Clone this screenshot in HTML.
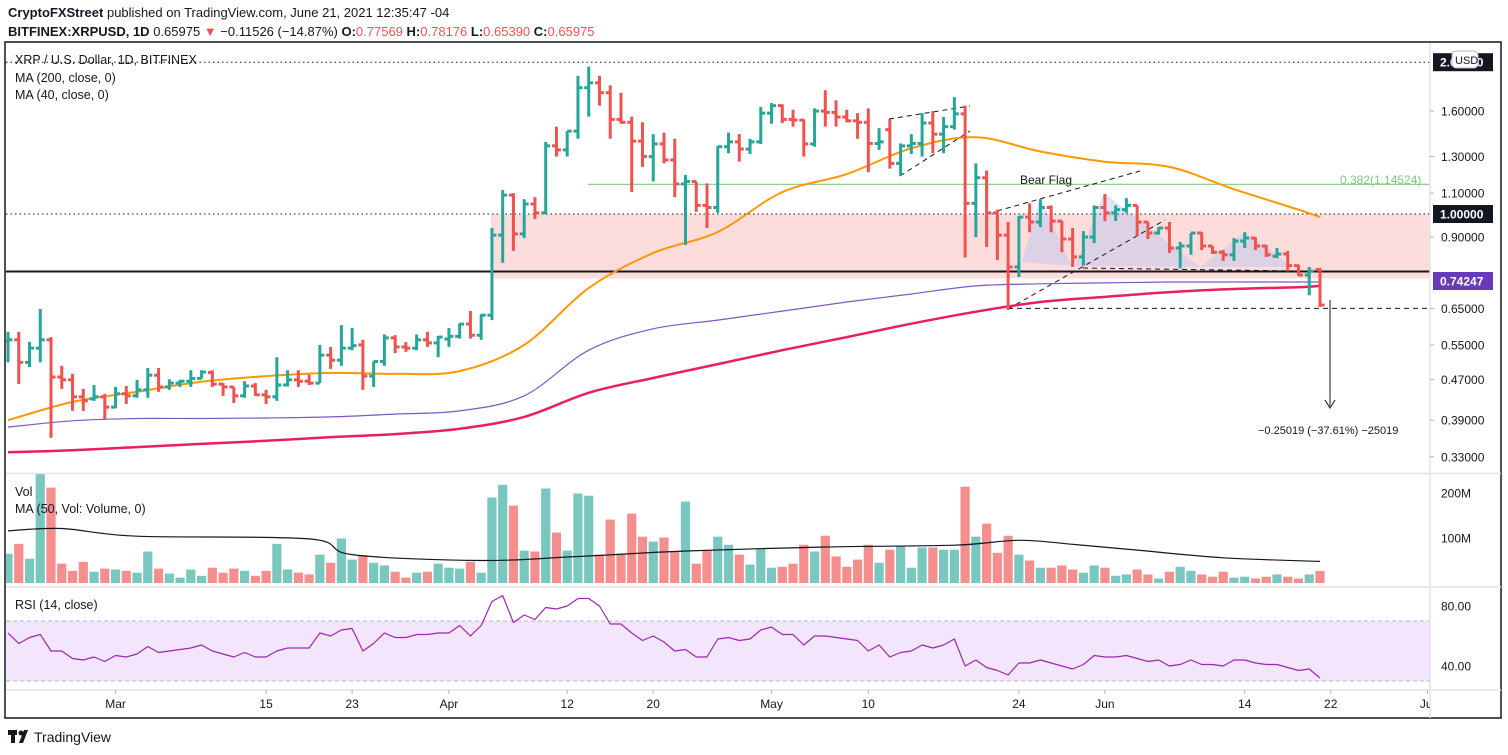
<!DOCTYPE html>
<html><head><meta charset="utf-8"><style>
html,body{margin:0;padding:0;background:#fff;}
svg{display:block;font-family:"Liberation Sans",sans-serif;}
</style></head><body>
<svg id="c" width="1508" height="755" viewBox="0 0 1508 755" xmlns="http://www.w3.org/2000/svg">
<defs>
<clipPath id="pc"><rect x="6" y="43" width="1424" height="429"/></clipPath>
<clipPath id="vc"><rect x="6" y="474" width="1424" height="111"/></clipPath>
<clipPath id="tc"><rect x="6" y="690" width="1424" height="28"/></clipPath>
</defs>
<text x="8" y="17" font-size="13" fill="#131722"><tspan font-weight="bold">CryptoFXStreet</tspan> published on TradingView.com, June 21, 2021 12:35:47 -04</text>
<text x="8" y="36" font-size="13" fill="#131722"><tspan font-weight="bold">BITFINEX:XRPUSD, 1D</tspan> 0.65975 <tspan fill="#ef5350">▼</tspan> −0.11526 (−14.87%) <tspan font-weight="bold">O:</tspan><tspan fill="#ef5350">0.77569</tspan> <tspan font-weight="bold">H:</tspan><tspan fill="#ef5350">0.78176</tspan> <tspan font-weight="bold">L:</tspan><tspan fill="#ef5350">0.65390</tspan> <tspan font-weight="bold">C:</tspan><tspan fill="#ef5350">0.65975</tspan></text>
<rect x="5" y="42" width="1496" height="676" fill="none" stroke="#131722" stroke-width="1.5"/>
<g id="bg"></g>
<g id="price" clip-path="url(#pc)"></g>
<g id="vol" clip-path="url(#vc)"></g>
<g id="rsi"></g>
<g id="axes"></g>
<g id="labels"></g>
<g>
<rect x="8" y="730" width="9" height="5" fill="#131722"/><rect x="11" y="730" width="4" height="13" fill="#131722"/><circle cx="21" cy="733" r="2.5" fill="#131722"/><path d="M19 743 L24 730 L28 730 L23 743Z" fill="#131722"/>
<text x="34" y="742" font-size="14" fill="#131722">TradingView</text></g>
</svg>
<script>
const opens=[.56,.563,.508,.542,.563,.475,.469,.434,.43,.434,.414,.44,.436,.448,.479,.454,.462,.466,.472,.485,.46,.454,.436,.456,.438,.434,.458,.469,.466,.462,.525,.513,.542,.55,.477,.51,.568,.545,.542,.563,.555,.565,.572,.605,.575,.63,.908,1.09,.913,1.047,1.005,1.365,1.34,1.46,1.78,1.82,1.74,1.54,1.52,1.395,1.30,1.377,1.28,1.147,1.16,1.04,1.03,1.36,1.39,1.345,1.39,1.585,1.64,1.54,1.535,1.377,1.60,1.59,1.557,1.53,1.52,1.38,1.47,1.26,1.365,1.38,1.515,1.44,1.49,1.58,1.05,1.18,1.005,.908,.785,.986,.964,1.03,.968,.892,.822,.90,1.03,1.005,1.02,1.04,.964,.917,.938,.856,.864,.917,.864,.84,.83,.884,.896,.864,.825,.833,.79,.757,.7757];
const highs=[.584,.584,.558,.648,.57,.50,.482,.45,.458,.44,.454,.456,.469,.495,.495,.47,.469,.49,.49,.49,.462,.454,.466,.462,.448,.52,.49,.49,.48,.55,.545,.602,.594,.563,.51,.577,.575,.557,.577,.584,.573,.594,.607,.642,.633,.938,1.115,1.10,1.07,1.08,1.39,1.49,1.46,1.88,1.96,1.88,1.80,1.74,1.56,1.52,1.44,1.45,1.41,1.195,1.16,1.15,1.365,1.45,1.44,1.41,1.63,1.66,1.65,1.61,1.54,1.62,1.76,1.68,1.61,1.585,1.62,1.48,1.54,1.38,1.44,1.585,1.60,1.557,1.705,1.64,1.26,1.22,1.02,.964,.99,1.05,1.07,1.04,.968,.938,.925,1.04,1.095,1.04,1.075,1.04,.964,.942,.964,.88,.917,.92,.864,.848,.896,.92,.90,.868,.856,.845,.793,.785,.7818];
const lows=[.508,.46,.497,.508,.36,.45,.407,.407,.426,.392,.412,.42,.432,.432,.444,.448,.454,.454,.472,.454,.436,.422,.432,.436,.42,.426,.455,.454,.458,.462,.493,.50,.537,.448,.454,.50,.53,.533,.537,.545,.52,.545,.566,.566,.563,.616,.80,.845,.896,.978,1.0,1.30,1.30,1.41,1.56,1.64,1.41,1.51,1.105,1.24,1.16,1.26,1.08,.868,1.01,.938,1.005,1.32,1.27,1.315,1.377,1.51,1.515,1.49,1.30,1.36,1.49,1.49,1.52,1.41,1.21,1.34,1.23,1.19,1.315,1.30,1.32,1.32,1.47,.82,.90,.86,.81,.645,.75,.92,.942,.92,.84,.785,.79,.876,.968,.968,1.005,.904,.892,.91,.837,.78,.83,.848,.833,.807,.807,.856,.848,.822,.818,.77,.754,.69,.6539];
const closes=[.563,.508,.542,.563,.475,.469,.434,.426,.434,.414,.44,.436,.448,.479,.454,.462,.466,.472,.486,.46,.454,.436,.456,.438,.434,.458,.469,.466,.462,.525,.513,.542,.548,.477,.51,.568,.545,.542,.563,.555,.57,.572,.605,.575,.63,.908,1.09,.913,1.047,1.005,1.365,1.34,1.46,1.78,1.82,1.74,1.54,1.52,1.395,1.30,1.377,1.28,1.147,1.16,1.04,1.03,1.36,1.39,1.345,1.39,1.585,1.64,1.54,1.535,1.377,1.60,1.59,1.557,1.53,1.52,1.38,1.39,1.26,1.365,1.38,1.515,1.44,1.49,1.58,1.05,1.18,1.005,.908,.785,.986,.964,1.03,.968,.892,.822,.90,1.03,1.005,1.02,1.04,.964,.917,.938,.856,.864,.917,.864,.84,.83,.884,.896,.864,.83,.833,.79,.757,.77,.6598];
const volumes=[65,87,54,243,212,43,27,47,25,32,30,27,23,70,32,21,12,30,16,34,23,32,27,16,27,87,30,23,19,63,45,99,52,62,45,39,25,12,23,25,43,34,32,47,23,190,218,172,72,70,210,112,72,199,194,63,141,65,154,103,92,101,70,181,43,72,103,85,63,41,77,34,36,43,85,70,105,59,36,52,85,45,74,83,34,79,79,74,74,214,103,132,67,105,63,50,34,34,39,30,23,39,34,16,19,30,19,10,25,36,27,19,14,25,12,14,10,14,19,14,10,19,27];
const rsiVals=[62,55,59,61,50,50,45,44,46,43,47,46,48,53,49,50,51,52,54,50,48,46,49,46,46,50,52,52,52,62,60,64,65,50,55,62,59,59,61,61,62,62,67,60,67,83,87,69,74,71,79,78,80,85,85,80,68,68,62,57,60,56,50,51,46,46,58,59,57,58,64,66,61,61,54,60,60,59,58,57,50,54,46,49,50,54,52,54,58,40,44,39,37,34,42,42,44,42,40,38,41,47,46,46,47,45,43,44,40,41,44,41,41,40,44,44,42,41,41,39,37,38,32];
const maIdx=[0,6,12,18,24,30,36,42,48,54,60,66,72,78,84,90,96,102,108,114,120,122];
const ma40=[.39,.424,.444,.465,.477,.484,.482,.488,.55,.713,.837,.921,1.105,1.20,1.35,1.42,1.33,1.27,1.24,1.12,1.02,.986];
const ma200=[.337,.34,.345,.35,.355,.361,.366,.375,.396,.442,.473,.504,.537,.57,.606,.64,.669,.685,.70,.71,.716,.72];
const maPurple=[.378,.389,.393,.393,.394,.396,.401,.407,.436,.537,.592,.616,.642,.669,.694,.72,.727,.73,.733,.733,.733,.733];
const volMaIdx=[0,5,12,28,32,44,53,63,76,88,94,99,105,113,122];
const volMa=[116,121,104,98,63,50,59,71,80,84,95,86,73,56,48];
const priceTicks=[1.6,1.3,1.1,0.9,0.65,0.55,0.47,0.39,0.33];
const timeLabels=["Mar","15","23","Apr","12","20","May","10","24","Jun","14","22","Jul"];
const timeIdx=[10,24,32,41,52,60,71,80,94,102,115,123,132];

const NS="http://www.w3.org/2000/svg";
const xI=i=>8+i*10.754;
const yP=p=>214-219*Math.log(p);
const yV=v=>583-v*0.45;
const yR=r=>621+(70-r)*1.5;
function mk(parent,tag,attrs,txt){const e=document.createElementNS(NS,tag);for(const k in attrs)e.setAttribute(k,attrs[k]);if(txt!==undefined)e.textContent=txt;document.getElementById(parent).appendChild(e);return e;}
const TEAL="#26a69a",RED="#ef5350";

let e;
e=mk('bg','rect',{x:491,y:yP(1.0),width:939,height:yP(0.745)-yP(1.0),fill:"#fddcdc"});


[[1022,262,1040,198,1072,266],[1075,266,1104,193,1200,267],[1200,267,1245,232,1293,267]].forEach((t,k)=>{
 e=mk('bg','polygon',{points:`${t[0]},${t[1]} ${t[2]},${t[3]} ${t[4]},${t[5]}`,fill:"rgba(180,195,240,0.45)"});
 
 
});
e=mk('bg','line',{x1:6,x2:1430,y1:yP(2.0),y2:yP(2.0),stroke:"#131722","stroke-dasharray":"1.5,3"});


e=mk('bg','line',{x1:6,x2:1430,y1:yP(1.0),y2:yP(1.0),stroke:"#131722","stroke-dasharray":"1.5,3"});


e=mk('bg','line',{x1:588,x2:1430,y1:yP(1.14524),y2:yP(1.14524),stroke:"#81c784","stroke-width":1.2});


e=mk('bg','line',{x1:6,x2:1430,y1:271.5,y2:271.5,stroke:"#131722","stroke-width":2});


e=mk('bg','line',{x1:1008,x2:1430,y1:yP(0.65),y2:yP(0.65),stroke:"#131722","stroke-dasharray":"5,4"});


[[997,211,1140,171],[1008,309,1165,220],[889,119,970,106],[900,176,970,131],[1083,268,1365,272]].forEach(l=>{
 e=mk('bg','line',{x1:l[0],y1:l[1],x2:l[2],y2:l[3],stroke:"#131722","stroke-dasharray":"5,4"});
 
 
});
e=mk('bg','line',{x1:1330,x2:1330,y1:300,y2:406,stroke:"#131722","stroke-width":1});


e=mk('bg','path',{d:"M1325 400 L1330 408 L1335 400",fill:"none",stroke:"#131722"});


e=mk('bg','text',{x:1020,y:184,"font-size":12,fill:"#131722"},"Bear Flag");


e=mk('bg','text',{x:1258,y:434,"font-size":11,fill:"#131722"},"−0.25019 (−37.61%) −25019");


e=mk('bg','text',{x:1340,y:184,"font-size":12,fill:"#81c784"},"0.382(1.14524)");



function smoothPath(pts){
 let d="M"+pts[0][0].toFixed(1)+" "+pts[0][1].toFixed(1);
 for(let k=0;k<pts.length-1;k++){
  const p0=pts[Math.max(0,k-1)],p1=pts[k],p2=pts[k+1],p3=pts[Math.min(pts.length-1,k+2)];
  const c1=[p1[0]+(p2[0]-p0[0])/6,p1[1]+(p2[1]-p0[1])/6],c2=[p2[0]-(p3[0]-p1[0])/6,p2[1]-(p3[1]-p1[1])/6];
  d+=` C${c1[0].toFixed(1)} ${c1[1].toFixed(1)} ${c2[0].toFixed(1)} ${c2[1].toFixed(1)} ${p2[0].toFixed(1)} ${p2[1].toFixed(1)}`;
 }
 return d;
}
function curve(g,idx,vals,yf,color,w,name){
 const pts=idx.map((ii,k)=>[xI(ii),yf(vals[k])]);
 const p=mk(g,'path',{d:smoothPath(pts),fill:"none",stroke:color,"stroke-width":w});
 
 
}
function poly(g,idx,vals,yf,color,w,name){
 const pts=idx.map((ii,k)=>xI(ii).toFixed(1)+","+yf(vals[k]).toFixed(1)).join(" ");
 const p=mk(g,'polyline',{points:pts,fill:"none",stroke:color,"stroke-width":w,"stroke-linejoin":"round"});
 
 
}
curve('price',maIdx,ma200,yP,"#e91e63",2.5,'ma200-line');
curve('price',maIdx,maPurple,yP,"#7e57c2",1.2,'ma-purple-line');
curve('price',maIdx,ma40,yP,"#ff9800",2,'ma40-line');

for(let i=0;i<closes.length;i++){
 const x=xI(i),col=closes[i]>=opens[i]?TEAL:RED;
 const g=document.createElementNS(NS,'g');
 
 
 g.setAttribute('stroke',col);g.setAttribute('stroke-width','3');
 const a=[[x,yP(highs[i]),x,yP(lows[i])],[x-4.5,yP(opens[i]),x,yP(opens[i])],[x,yP(closes[i]),x+4.5,yP(closes[i])]];
 a.forEach(l=>{const ln=document.createElementNS(NS,'line');ln.setAttribute('x1',l[0]);ln.setAttribute('y1',l[1]);ln.setAttribute('x2',l[2]);ln.setAttribute('y2',l[3]);g.appendChild(ln);});
 document.getElementById('price').appendChild(g);
}

for(let i=0;i<volumes.length;i++){
 const col=closes[i]>=opens[i]?"rgba(38,166,154,0.62)":"rgba(239,83,80,0.65)";
 const r=mk('vol','rect',{x:xI(i)-4.6,y:yV(volumes[i]),width:9.2,height:583-yV(volumes[i]),fill:col});
 
 
}
curve('vol',volMaIdx,volMa,yV,"#131722",1.2,'volume-ma-line');

e=mk('rsi','rect',{x:6,y:yR(70),width:1424,height:yR(30)-yR(70),fill:"#f3e5fc"});


[70,30].forEach(v=>{e=mk('rsi','line',{x1:6,x2:1430,y1:yR(v),y2:yR(v),stroke:"#b9b5c0","stroke-dasharray":"4,3"});
 
 });
poly('rsi',rsiVals.map((v,i)=>i),rsiVals,yR,"#9c27b0",1.2,'rsi-line');

[[6,1501,473.5,473.5],[6,1501,587,587],[6,1501,690,690],[1430,1430,43,718]].forEach(l=>{
 e=mk('axes','line',{x1:l[0],x2:l[1],y1:l[2],y2:l[3],stroke:"#e0e3eb","stroke-width":1.5});
 
 
});
priceTicks.forEach(p=>{
 e=mk('axes','text',{x:1441,y:yP(p)+4.5,"font-size":12,fill:"#131722"},p.toFixed(5));
 
 
 mk('axes','line',{x1:1430,x2:1434,y1:yP(p),y2:yP(p),stroke:"#b2b5be"});
});
function tag(y,txt,bg,name){
 e=mk('axes','rect',{x:1433,y:y-9,width:60,height:18,fill:bg});
 
 
 e=mk('axes','text',{x:1440,y:y+4.5,"font-size":12,"font-weight":"bold",fill:"#fff"},txt);
 
 
}
tag(yP(2.0),"2.00000","#131722",'level-2-tag');
tag(yP(1.0),"1.00000","#131722",'level-1-tag');
tag(281,"0.74247","#673ab7",'last-price-tag');
e=mk('axes','rect',{x:1452,y:51,width:26,height:17,rx:4,fill:"#fff",stroke:"#b2b5be"});


e=mk('axes','text',{x:1455,y:64,"font-size":11,fill:"#131722"},"USD");


[[200,"200M"],[100,"100M"]].forEach(t=>{
 e=mk('axes','text',{x:1441,y:yV(t[0])+4.5,"font-size":12,fill:"#131722"},t[1]);
 
 
});
[80,40].forEach(v=>{
 e=mk('axes','text',{x:1441,y:yR(v)+4.5,"font-size":12,fill:"#131722"},v.toFixed(2));
 
 
});
timeLabels.forEach((t,k)=>{
 const x=xI(timeIdx[k]);
 e=mk('axes','text',{x:x,y:708,"font-size":12,fill:"#131722","text-anchor":"middle","clip-path":"url(#tc)"},t);
 
 
 mk('axes','line',{x1:x,x2:x,y1:690,y2:694,stroke:"#b2b5be"});
});
[[15,64,"XRP / U.S. Dollar, 1D, BITFINEX",'symbol-title'],[15,82,"MA (200, close, 0)",'ma200-legend'],[15,99,"MA (40, close, 0)",'ma40-legend'],[15,496,"Vol",'volume-title'],[15,513,"MA (50, Vol: Volume, 0)",'volume-ma-legend'],[15,609,"RSI (14, close)",'rsi-title']].forEach(t=>{
 e=mk('labels','text',{x:t[0],y:t[1],"font-size":12.5,fill:"#131722"},t[2]);
 
 
});
</script>
</body></html>
